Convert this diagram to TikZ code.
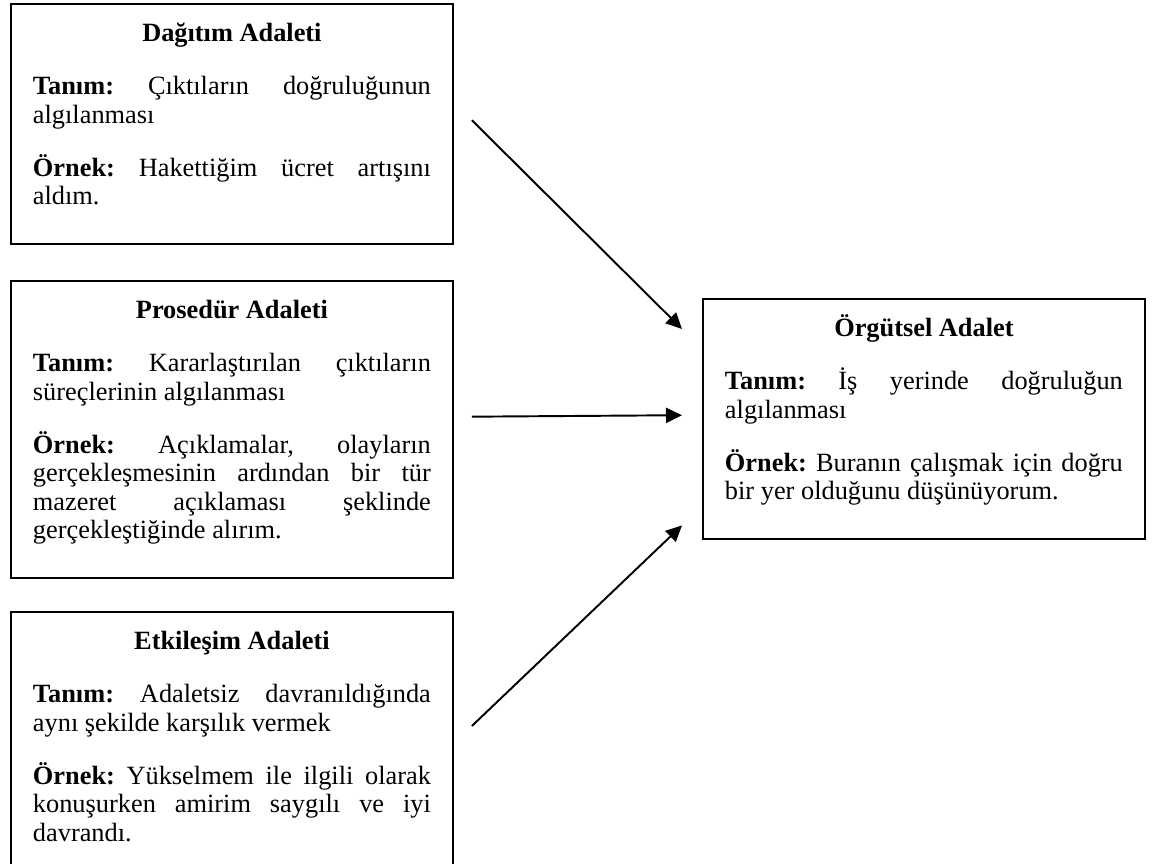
\documentclass[tikz,border=0pt]{standalone}
\usepackage{fontspec}
\setmainfont{Liberation Serif}
\usetikzlibrary{arrows.meta}

\newcommand{\metin}{\fontsize{15}{16.2}\selectfont\frenchspacing
  \spaceskip=3.75pt plus 30pt minus 1.2pt
  \hyphenpenalty=10000 \exhyphenpenalty=10000}
\newcommand{\baslik}[1]{{\centering\bfseries\rule{0pt}{13pt}#1\par}\vspace{14pt}}
\newcommand{\ara}{\par\vspace{14pt}}
\newcommand{\bitir}{\rule[-14pt]{0pt}{14pt}}

\tikzset{
  kutu/.style={draw, line width=1.1pt, anchor=north west, text width=7.96cm,
    inner xsep=0.44cm, inner ysep=0.3cm, align=justify, font=\metin},
  ok/.style={-{Triangle[length=0.32cm,width=0.3cm]}, line width=1.1pt}
}

\begin{document}
\begin{tikzpicture}[x=0.02cm,y=-0.02cm]
  \useasboundingbox (0,0) rectangle (1155,863);
  \clip (0,0) rectangle (1155,863);
  \node[kutu] (dagitim) at (10,3) {\baslik{Dağıtım Adaleti}
    \textbf{Tanım:} Çıktıların doğruluğunun algılanması\ara
    \textbf{Örnek:} Hakettiğim ücret artışını aldım.\bitir};
  \node[kutu] (prosedur) at (10,280) {\baslik{Prosedür Adaleti}
    \textbf{Tanım:} Kararlaştırılan çıktıların süreçlerinin algılanması\ara
    \textbf{Örnek:} Açıklamalar, olayların gerçekleşmesinin ardından bir tür\linebreak{} mazeret açıklaması şeklinde gerçekleştiğinde alırım.\bitir};
  \node[kutu] (etkilesim) at (10,611) {\baslik{Etkileşim Adaleti}
    \textbf{Tanım:} Adaletsiz davranıldığında aynı şekilde karşılık vermek\ara
    \textbf{Örnek:} Yükselmem ile ilgili olarak konuşurken amirim saygılı ve iyi davrandı.\bitir};
  \node[kutu] (orgutsel) at (702,298) {\baslik{Örgütsel Adalet}
    \textbf{Tanım:} İş yerinde doğruluğun algılanması\ara
    \textbf{Örnek:} Buranın çalışmak için doğru bir yer olduğunu düşünüyorum.\bitir};

  \draw[ok] ([shift={(18,-4)}]dagitim.east) -- ([shift={(-20,31)}]orgutsel.north west);
  \draw[ok] ([shift={(18,-13)}]prosedur.east) -- ([shift={(-20,-4)}]orgutsel.west);
  \draw[ok] ([shift={(18,115)}]etkilesim.north east) -- ([shift={(-20,-15)}]orgutsel.south west);
\end{tikzpicture}
\end{document}
